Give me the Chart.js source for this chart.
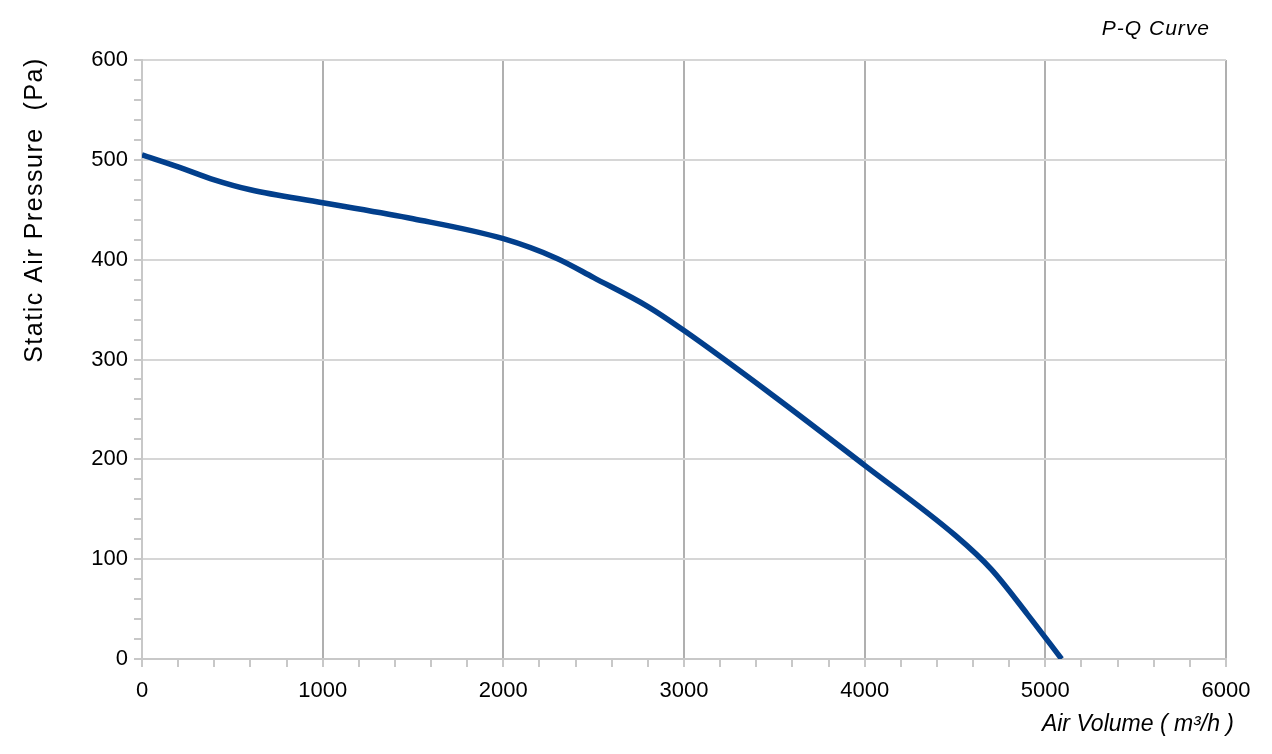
<!DOCTYPE html>
<html>
<head>
<meta charset="utf-8">
<script src="https://cdn.jsdelivr.net/npm/chart.js@4/dist/chart.umd.min.js"></script>
<style>
  html, body { margin: 0; padding: 0; background: #fff; }
  #wrap { width: 1272px; height: 754px; }
</style>
</head>
<body>
<div id="wrap"><canvas id="pqChart" width="1272" height="754"></canvas></div>
<script>
// P-Q curve
const airVolume = [0, 200, 400, 600, 1000, 1500, 2000, 2300, 2500, 2800, 3000, 3500, 4000, 4500, 4700, 4900, 5090];
const pressure  = [505, 493, 480, 470, 457, 441, 421, 401, 382, 353, 329, 263, 194, 124, 90, 45, 0];

const chartTitle = 'P-Q Curve';
const xTitle = 'Air Volume ( m³/h )';
const yTitle = 'Static Air Pressure  (Pa)';

const points = airVolume.map((x, i) => ({ x, y: pressure[i] }));

const textPlugin = {
    id: 'textPlugin',
    afterDraw(chart) {
        const c = chart.ctx;
        const area = chart.chartArea;
        c.save();
        c.fillStyle = '#000';
        c.textBaseline = 'middle';
        c.textAlign = 'right';
        c.letterSpacing = '1px';
        c.font = 'italic 21px "Liberation Sans", Arial, sans-serif';
        c.fillText(chartTitle, area.right - 16, 29);

        c.letterSpacing = '0px';
        c.font = 'italic 23px "Liberation Sans", Arial, sans-serif';
        c.fillText(xTitle, area.right + 8, 725);

        c.translate(35, 210);
        c.rotate(-Math.PI / 2);
        c.textAlign = 'center';
        c.letterSpacing = '1.5px';
        c.font = '25px "Liberation Sans", Arial, sans-serif';
        c.fillText(yTitle, 0, 0);
        c.restore();
    }
};

const ctx = document.getElementById('pqChart').getContext('2d');
new Chart(ctx, {
    type: 'line',
    data: {
        datasets: [{
            label: 'P-Q',
            data: points,
            borderColor: '#023f8c',
            borderWidth: 5.5,
            pointRadius: 0,
            cubicInterpolationMode: 'monotone',
            fill: false
        }]
    },
    options: {
        responsive: false,
        animation: false,
        layout: { padding: { top: 60, right: 46, left: 0, bottom: 0 } },
        scales: {
            x: {
                type: 'linear',
                min: 0,
                max: 6000,
                afterFit: s => { s.height = 95; },
                border: { color: '#c8c8c8', width: 2 },
                grid: {
                    color: c => (c.tick && c.tick.value % 1000 === 0) ? '#b0b0b0' : 'rgba(0,0,0,0)',
                    lineWidth: 2,
                    tickColor: '#c8c8c8',
                    tickLength: 8
                },
                ticks: {
                    stepSize: 200,
                    autoSkip: false,
                    maxRotation: 0,
                    padding: 11,
                    color: '#000',
                    font: { family: '"Liberation Sans", Arial, sans-serif', size: 22 },
                    callback: v => v % 1000 === 0 ? String(v) : ''
                }
            },
            y: {
                min: 0,
                max: 600,
                afterFit: s => { s.width = 142; },
                border: { color: '#c8c8c8', width: 2 },
                grid: {
                    color: c => (c.tick && c.tick.value % 100 === 0) ? '#d6d6d6' : 'rgba(0,0,0,0)',
                    lineWidth: 2,
                    tickColor: '#c8c8c8',
                    tickLength: 8
                },
                ticks: {
                    stepSize: 20,
                    autoSkip: false,
                    padding: 6,
                    color: '#000',
                    font: { family: '"Liberation Sans", Arial, sans-serif', size: 22 },
                    callback: v => v % 100 === 0 ? String(v) : ''
                }
            }
        },
        plugins: {
            legend: { display: false },
            tooltip: { enabled: false }
        }
    },
    plugins: [textPlugin]
});
</script>
</body>
</html>
